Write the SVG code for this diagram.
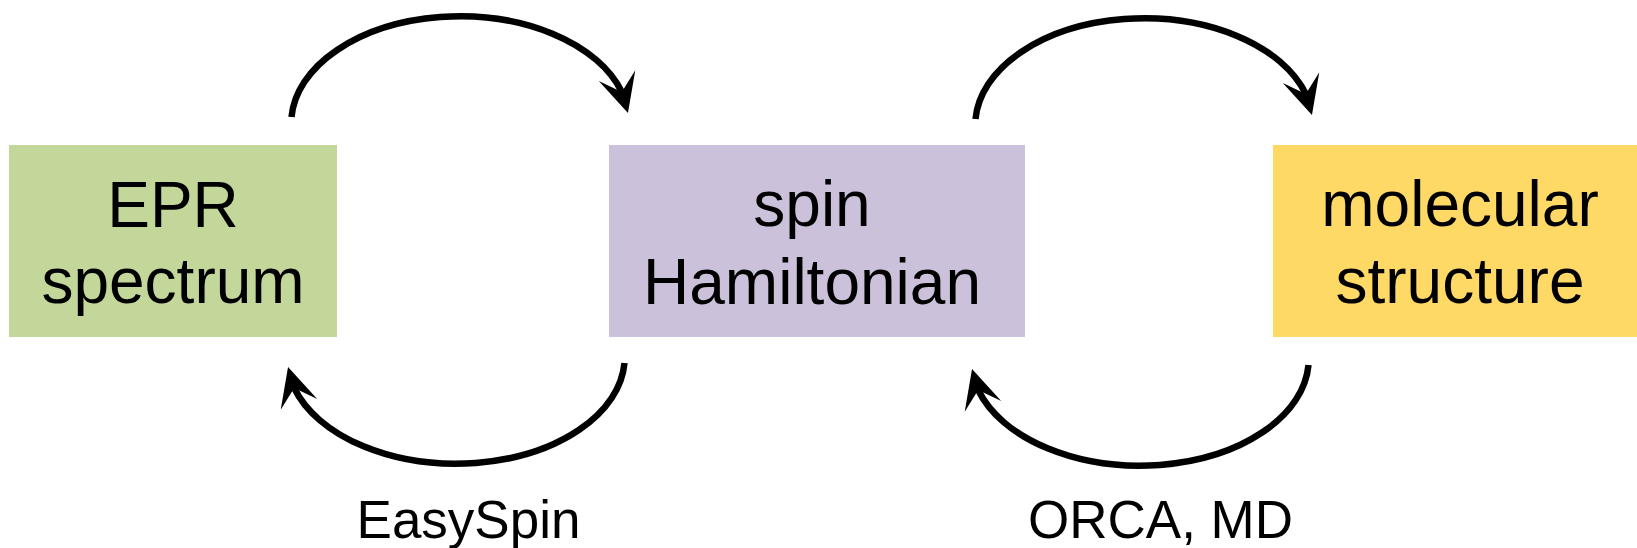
<svg xmlns="http://www.w3.org/2000/svg" width="1637" height="548" viewBox="0 0 1637 548">
  <style>
    .lbl { font-family: "Liberation Sans", Arial, sans-serif; font-size: 64px; fill: #000; text-anchor: middle; }
    .tool { font-family: "Liberation Sans", Arial, sans-serif; font-size: 53px; fill: #000; text-anchor: middle; }
    .arc { fill: none; stroke: #000; stroke-width: 6.5; marker-end: url(#head); }
  </style>
  <defs>
    <marker id="head" markerUnits="userSpaceOnUse" orient="auto" refX="0" refY="0" markerWidth="60" markerHeight="60" overflow="visible">
      <path d="M17,0 L-22,-19 L-5,0 L-22,19 Z" fill="#000"/>
    </marker>
  </defs>
  <rect width="1637" height="548" fill="#fff"/>
  <g id="epr">
    <rect x="9" y="145" width="328" height="192" fill="#C4D79B"/>
    <text class="lbl" x="173" y="227">EPR</text>
    <text class="lbl" x="173" y="303">spectrum</text>
  </g>
  <g id="spin">
    <rect x="609" y="145" width="416" height="192" fill="#CCC1DA"/>
    <text class="lbl" x="812" y="226">spin</text>
    <text class="lbl" x="812" y="304">Hamiltonian</text>
  </g>
  <g id="molecular">
    <rect x="1273" y="145" width="364" height="192" fill="#FFD966"/>
    <text class="lbl" x="1460" y="226">molecular</text>
    <text class="lbl" x="1460" y="303">structure</text>
  </g>
  <g id="connectors">
    <path class="arc" d="M291.5,117 A169,107 0 0 1 621.8,92 l1.4,4.8"/>
    <path class="arc" d="M975.5,119 A169,107 0 0 1 1305.8,94 l1.4,4.8"/>
    <path class="arc" d="M624.5,363 A169,107 0 0 1 294.2,388 l-1.4,-4.8"/>
    <path class="arc" d="M1308.5,365 A169,107 0 0 1 978.2,390 l-1.4,-4.8"/>
  </g>
  <g id="labels">
    <text class="tool" x="468.5" y="538">EasySpin</text>
    <text class="tool" x="1160.5" y="538">ORCA, MD</text>
  </g>
</svg>
